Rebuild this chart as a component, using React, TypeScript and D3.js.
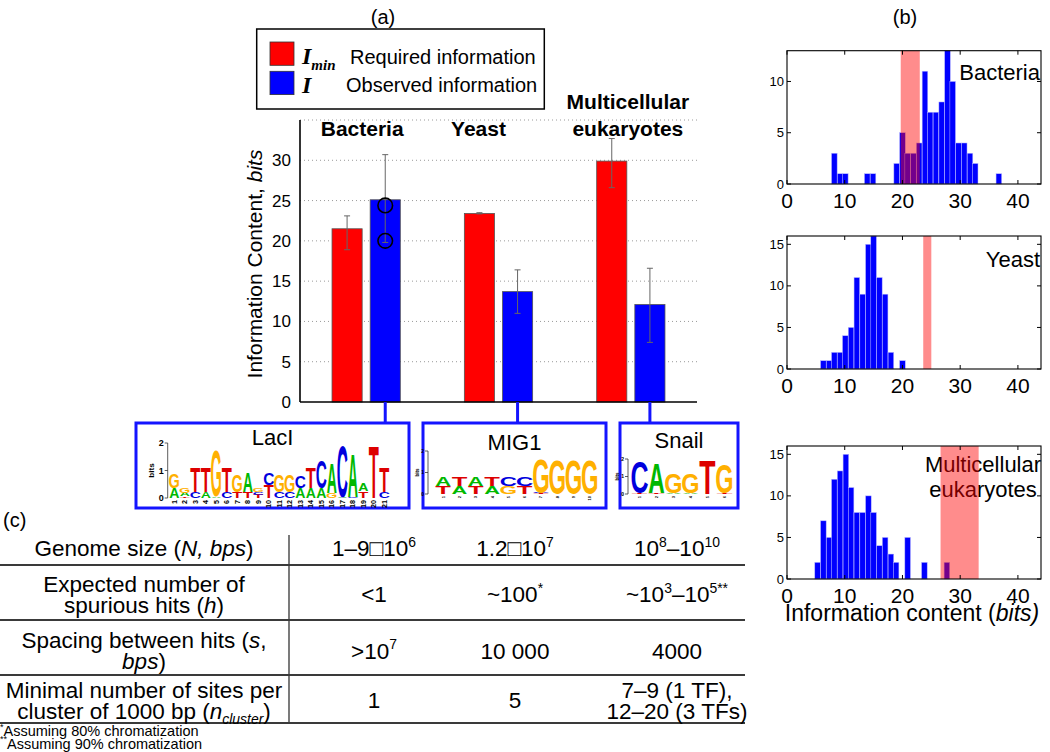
import React from 'react';
import * as d3 from 'd3';

// ---------------- data ----------------
const categories = ['Bacteria', 'Yeast', 'Multicellular eukaryotes'];
const categoryLines = [['Bacteria'], ['Yeast'], ['Multicellular', 'eukaryotes']];
const seriesKeys = ['required', 'observed'];
const requiredInfo = [21.5, 23.4, 29.9];
const requiredLow = [18.9, 23.35, 26.6];
const requiredHigh = [23.1, 23.5, 32.7];
const observedInfo = [25.1, 13.7, 12.1];
const observedLow = [19.8, 11.0, 7.4];
const observedHigh = [30.7, 16.4, 16.6];
const bacteriaMarkers = [24.4, 20.0];
const barTicks = [0, 5, 10, 15, 20, 25, 30];
const gridTicks = [5, 10, 15, 20, 25, 30, 35];
const legendSymbols = ['I', 'I'];
const legendSubs = ['min', ''];
const legendTexts = ['Required information', 'Observed information'];

const bacteriaBins = [8.2, 9.2, 10.1, 13.9, 14.9, 19.0, 20.0, 20.9, 21.9, 22.9, 23.9, 24.8, 25.8, 26.8, 27.8, 28.7, 29.7, 30.7, 31.7, 32.6, 36.7];
const bacteriaCounts = [3, 1, 1, 1, 1, 2, 5, 3, 3, 4, 11, 7, 7, 8, 13, 10, 4, 4, 3, 2, 1];
const yeastBins = [6.3, 7.3, 8.2, 9.2, 10.1, 11.1, 12.1, 13.1, 14.1, 15.0, 16.0, 17.0, 18.0, 20.0];
const yeastCounts = [1, 1, 2, 2, 4, 5, 11, 9, 15, 16, 11, 9, 2, 1];
const multiBins = [5.3, 6.3, 7.3, 8.2, 9.2, 10.2, 11.1, 12.1, 13.1, 14.1, 15.0, 16.0, 17.0, 18.0, 18.9, 20.9, 23.8, 27.7];
const multiCounts = [2, 7, 5, 12, 13, 15, 11, 8, 8, 10, 8, 4, 5, 3, 2, 5, 2, 2];
const bacteriaBand = [19.7, 23.0];
const yeastBand = [23.6, 25.0];
const multiBand = [26.6, 33.2];
const histXTicks = [0, 10, 20, 30, 40];
const bacteriaYTicks = [0, 5, 10];
const yeastYTicks = [0, 5, 10, 15];
const multiYTicks = [0, 5, 10, 15];

const laclTitle = 'LacI';
const laclColumns: [string, number][][] = [
  [['A', 0.37], ['G', 0.51]],
  [['T', 0.06], ['A', 0.13], ['G', 0.2]],
  [['C', 0.23], ['T', 0.9]],
  [['A', 0.23], ['T', 0.9]],
  [['A', 0.06], ['G', 1.68]],
  [['C', 0.23], ['T', 0.9]],
  [['T', 0.23], ['G', 0.64]],
  [['T', 0.23], ['A', 0.7]],
  [['T', 0.12], ['C', 0.1], ['G', 0.14]],
  [['T', 0.47], ['C', 0.42]],
  [['C', 0.23], ['G', 0.64]],
  [['C', 0.23], ['G', 0.64]],
  [['A', 0.37], ['C', 0.44]],
  [['A', 0.37], ['T', 0.75]],
  [['A', 0.37], ['C', 1.03]],
  [['G', 0.2], ['A', 1.1]],
  [['A', 0.03], ['C', 1.88]],
  [['C', 0.05], ['A', 1.6]],
  [['T', 0.25], ['A', 0.3]],
  [['T', 1.95]],
  [['C', 0.23], ['T', 0.9]],
];
const mig1Title = 'MIG1';
const mig1Columns: [string, number][][] = [
  [['T', 0.37], ['A', 0.4]],
  [['A', 0.37], ['T', 0.4]],
  [['T', 0.37], ['A', 0.4]],
  [['A', 0.37], ['T', 0.4]],
  [['G', 0.37], ['C', 0.4]],
  [['T', 0.37], ['C', 0.4]],
  [['T', 0.03], ['C', 0.03], ['G', 1.6]],
  [['G', 1.6]],
  [['G', 1.6]],
  [['G', 1.6]],
];
const snailTitle = 'Snail';
const snailColumns: [string, number][][] = [
  [['T', 0.03], ['C', 1.8]],
  [['T', 0.06], ['A', 1.75]],
  [['A', 0.07], ['G', 1.15]],
  [['A', 0.07], ['G', 1.15]],
  [['T', 1.95]],
  [['T', 0.05], ['G', 1.65]],
];
const logoBitTicks = [0, 1, 2];

// table: '|' toggles italic, '^' superscript, '_' subscript
const tableRowLabels = [
  ['Genome size (|N, bps|)'],
  ['Expected number of', 'spurious hits (|h|)'],
  ['Spacing between hits (|s|,', '|bps|)'],
  ['Minimal number of sites per', 'cluster of 1000 bp (|n_cluster_|)'],
];
const tableBacteria = [['1–9□10^6^'], ['<1'], ['>10^7^'], ['1']];
const tableYeast = [['1.2□10^7^'], ['~100^*^'], ['10 000'], ['5']];
const tableMulti = [['10^8^–10^10^'], ['~10^3^–10^5**^'], ['4000'], ['7–9 (1 TF),', '12–20 (3 TFs)']];
const footnotes = ['^*^Assuming 80% chromatization', '^**^Assuming 90% chromatization'];

// ---------------- helpers ----------------
const SANS = 'Liberation Sans, Arial, Helvetica, sans-serif';
const letterColor: Record<string, string> = { A: '#00b800', C: '#0000dd', G: '#ffb000', T: '#dd0000' };
const letterInk: Record<string, number> = { A: 0.70, C: 0.64, G: 0.68, T: 0.60 };

function rich(str: string, size: number, keyBase: string) {
  const segs: { t: string; it: boolean; sup: boolean; sub: boolean }[] = [];
  let it = false, sup = false, sub = false, buf = '';
  const push = () => { if (buf) { segs.push({ t: buf, it, sup, sub }); buf = ''; } };
  for (const ch of str) {
    if (ch === '|') { push(); it = !it; }
    else if (ch === '^') { push(); sup = !sup; }
    else if (ch === '_') { push(); sub = !sub; }
    else buf += ch;
  }
  push();
  let offset = 0;
  return segs.map((s, i) => {
    const target = s.sup ? -0.42 * size : s.sub ? 0.25 * size : 0;
    const dy = target - offset;
    offset = target;
    const isBox = s.t === '□';
    return (
      <tspan key={keyBase + i} dy={dy} fontStyle={s.it ? 'italic' : 'normal'}
        fontSize={s.sup || s.sub ? size * 0.62 : isBox ? size * 0.8 : size}
        fill={isBox ? '#9a9a9a' : undefined}>{s.t}</tspan>
    );
  });
}

function Logo({ cols, x0, colW, base, pxPerBit, keyBase }: any) {
  const out: any[] = [];
  cols.forEach((col: [string, number][], i: number) => {
    let y = base;
    col.forEach(([l, b], j) => {
      const h = b * pxPerBit;
      const sx = (colW * 0.94) / (letterInk[l] * 100);
      const sy = h / 71.6;
      out.push(
        <text key={`${keyBase}-${i}-${j}`} transform={`translate(${x0 + (i + 0.5) * colW},${y}) scale(${sx},${sy})`}
          fontSize={100} fontWeight="bold" textAnchor="middle" fill={letterColor[l]} fontFamily={SANS}>{l}</text>
      );
      y -= h;
    });
  });
  return <g>{out}</g>;
}

function LogoAxis({ x, base, pxPerBit, x0, colW, n, size, keyBase }: any) {
  return (
    <g>
      <line x1={x} x2={x} y1={base} y2={base - 2 * pxPerBit} stroke="#333" strokeWidth={0.8} />
      {logoBitTicks.map(t => (
        <g key={keyBase + 't' + t}>
          <line x1={x - 3} x2={x} y1={base - t * pxPerBit} y2={base - t * pxPerBit} stroke="#333" strokeWidth={0.8} />
          <text x={x - 4} y={base - t * pxPerBit + size * 0.35} fontSize={size} fontWeight="bold" textAnchor="end" fontFamily={SANS}>{t}</text>
        </g>
      ))}
      <text transform={`translate(${x - 4 - size * 1.1},${base - pxPerBit}) rotate(-90)`} fontSize={size * 0.9} fontWeight="bold" textAnchor="middle" fontFamily={SANS}>bits</text>
      {d3.range(n).map(i => (
        <text key={keyBase + 'n' + i} transform={`translate(${x0 + (i + 0.5) * colW + size * 0.3},${base + 2}) rotate(-90)`}
          fontSize={size * 0.8} fontWeight="bold" textAnchor="end" fontFamily={SANS}>{i + 1}</text>
      ))}
    </g>
  );
}

function Histogram({ top, bottom, bins, counts, band, yMax, yTicks, label }: any) {
  const hx = d3.scaleLinear().domain([0, 44]).range([787, 1041]);
  const hy = d3.scaleLinear().domain([0, yMax]).range([bottom, top]);
  const binW = 0.97;
  return (
    <g>
      {bins.map((c: number, i: number) => (
        <rect key={i} x={hx(c - binW / 2)} width={hx(binW) - hx(0)} y={hy(counts[i])} height={bottom - hy(counts[i])}
          fill="#0000ff" stroke="#b8b8ff" strokeWidth={0.5} />
      ))}
      {label}
      <rect x={hx(band[0])} width={hx(band[1]) - hx(band[0])} y={top} height={bottom - top} fill="#ff0000" fillOpacity={0.45} />
      <rect x={hx(0)} y={top} width={hx(44) - hx(0)} height={bottom - top} fill="none" stroke="#000" strokeWidth={1.1} />
      {histXTicks.map(t => (
        <g key={'x' + t}>
          <line x1={hx(t)} x2={hx(t)} y1={bottom} y2={bottom - 4} stroke="#000" />
          <line x1={hx(t)} x2={hx(t)} y1={top} y2={top + 4} stroke="#000" />
          <text x={hx(t)} y={bottom + 24} fontSize={21} textAnchor="middle" fontFamily={SANS}>{t}</text>
        </g>
      ))}
      {yTicks.map((t: number) => (
        <g key={'y' + t}>
          <line x1={hx(0)} x2={hx(0) + 4} y1={hy(t)} y2={hy(t)} stroke="#000" />
          <line x1={hx(44) - 4} x2={hx(44)} y1={hy(t)} y2={hy(t)} stroke="#000" />
          <text x={hx(0) - 3} y={hy(t) + 4.5} fontSize={13} textAnchor="end" fontFamily={SANS}>{t}</text>
        </g>
      ))}
    </g>
  );
}

export default function App() {
  const AY = 28; // vertical offset of panel (a)
  // ---- panel (a) bar chart ----
  const x0 = d3.scaleBand().domain(categories).range([300, 697]);
  const x1 = d3.scaleBand().domain(seriesKeys).range([x0.bandwidth() * 0.242, x0.bandwidth() * 0.758]).paddingInner(0.21);
  const y = d3.scaleLinear().domain([0, 35]).range([374 + AY, 92 + AY]);
  const labelShift = [-4, -20, -3];
  const seriesVals = [requiredInfo, observedInfo];
  const seriesLow = [requiredLow, observedLow];
  const seriesHigh = [requiredHigh, observedHigh];
  const seriesFill = ['#ff0000', '#0000ff'];

  const obsCenter = (i: number) => (x0(categories[i]) as number) + (x1('observed') as number) + x1.bandwidth() / 2;

  const boxTop = 423, boxBot = 508;
  const logos = [
    { title: laclTitle, cols: laclColumns, box: [136, 409], x0: 169, colW: 10.5, base: 498, ppb: 27.5, axisX: 167.7, size: 9, titleY: 445 },
    { title: mig1Title, cols: mig1Columns, box: [423, 606], x0: 435, colW: 16.3, base: 494, ppb: 21.5, axisX: 428, size: 5, titleY: 450 },
    { title: snailTitle, cols: snailColumns, box: [620, 738], x0: 631, colW: 17, base: 494, ppb: 17.5, axisX: 628, size: 5, titleY: 448 },
  ];

  const rowCenters = [548, 594, 650.5, 700];
  const rowLines = [565, 620, 675, 723];
  const colCenters = [144, 374, 515, 677];
  const lineH = 21;
  const tSize = 22.5;
  const tableCols = [tableRowLabels, tableBacteria, tableYeast, tableMulti];

  return (
    <svg width={1050} height={752} style={{ position: 'absolute', left: 0, top: 0, background: '#fff' }} fontFamily={SANS}>
      <rect width={1050} height={752} fill="#fff" />
      {/* panel labels */}
      <text x={383} y={24} fontSize={20} textAnchor="middle">(a)</text>
      <text x={905} y={24} fontSize={20} textAnchor="middle">(b)</text>
      <text x={3} y={527} fontSize={20}>(c)</text>

      {/* legend */}
      <rect x={256.7} y={1 + AY} width={287.6} height={80} fill="#fff" stroke="#000" strokeWidth={1.5} />
      {legendTexts.map((t, i) => (
        <g key={t}>
          <rect x={270} y={14 + AY + i * 29.3} width={24} height={23.3} fill={seriesFill[i]} stroke="#333" strokeWidth={0.8} />
          <text x={302} y={36 + AY + i * 28.5} fontFamily="Liberation Serif, Times New Roman, serif" fontStyle="italic" fontWeight="bold" fontSize={24}>
            {legendSymbols[i]}
            {legendSubs[i] ? <tspan fontSize={15} dy={5.5}>{legendSubs[i]}</tspan> : null}
          </text>
          <text x={i === 0 ? 350 : 346} y={36 + AY + i * 28} fontSize={20}>{t}</text>
        </g>
      ))}

      {/* grid */}
      {gridTicks.map(t => (
        <line key={'g' + t} x1={300} x2={697} y1={y(t)} y2={y(t)} stroke="#9a9a9a" strokeWidth={1} strokeDasharray="1,3" />
      ))}
      {/* bars */}
      {categories.map((c, i) => (
        <g key={c} transform={`translate(${x0(c)},0)`}>
          {seriesKeys.map((s, k) => {
            const v = seriesVals[k][i];
            const cx = (x1(s) as number) + x1.bandwidth() / 2;
            return (
              <g key={s}>
                <rect x={x1(s)} width={x1.bandwidth()} y={y(v)} height={y(0) - y(v)} fill={seriesFill[k]} stroke="#555" strokeWidth={0.8} />
                <line x1={cx} x2={cx} y1={y(seriesLow[k][i])} y2={y(seriesHigh[k][i])} stroke="#666" strokeWidth={1} />
                <line x1={cx - 3} x2={cx + 3} y1={y(seriesLow[k][i])} y2={y(seriesLow[k][i])} stroke="#666" strokeWidth={1} />
                <line x1={cx - 3} x2={cx + 3} y1={y(seriesHigh[k][i])} y2={y(seriesHigh[k][i])} stroke="#666" strokeWidth={1} />
              </g>
            );
          })}
        </g>
      ))}
      {bacteriaMarkers.map(m => (
        <circle key={'m' + m} cx={obsCenter(0)} cy={y(m)} r={7.3} fill="none" stroke="#000" strokeWidth={1.6} />
      ))}
      {/* axes */}
      <line x1={300} x2={300} y1={y(35)} y2={y(0)} stroke="#000" strokeWidth={1.6} />
      <line x1={300} x2={697} y1={y(0)} y2={y(0)} stroke="#000" strokeWidth={1.6} />
      {barTicks.map(t => (
        <text key={'t' + t} x={291} y={y(t) + 6} fontSize={17} textAnchor="end">{t}</text>
      ))}
      <text transform={`translate(262,${(y(0) + y(35)) / 2 + 3}) rotate(-90)`} fontSize={21} textAnchor="middle">
        Information Content, <tspan fontStyle="italic">bits</tspan>
      </text>
      {categoryLines.map((lines, i) => {
        const cx = (x0(categories[i]) as number) + x0.bandwidth() / 2 + labelShift[i];
        return lines.map((l, j) => (
          <text key={l} x={cx} y={108 + AY - (lines.length - 1 - j) * 27} fontSize={21} fontWeight="bold" textAnchor="middle">{l}</text>
        ));
      })}

      {/* connectors and logos */}
      {logos.map((lg, i) => (
        <g key={lg.title}>
          <line x1={obsCenter(i)} x2={obsCenter(i)} y1={y(0)} y2={boxTop} stroke="#1414ff" strokeWidth={3} />
          <rect x={lg.box[0]} y={boxTop} width={lg.box[1] - lg.box[0]} height={boxBot - boxTop} fill="#fff" stroke="#1414ff" strokeWidth={3} />
          <text x={(lg.box[0] + lg.box[1]) / 2} y={lg.titleY} fontSize={22} textAnchor="middle">{lg.title}</text>
          <LogoAxis x={lg.axisX} base={lg.base} pxPerBit={lg.ppb} x0={lg.x0} colW={lg.colW} n={lg.cols.length} size={lg.size} keyBase={lg.title} />
          <Logo cols={lg.cols} x0={lg.x0} colW={lg.colW} base={lg.base} pxPerBit={lg.ppb} keyBase={lg.title} />
        </g>
      ))}

      {/* panel (b) histograms */}
      <Histogram top={50.7} bottom={184} bins={bacteriaBins} counts={bacteriaCounts} band={bacteriaBand} yMax={13} yTicks={bacteriaYTicks}
        label={<text x={1040} y={80} fontSize={22} textAnchor="end">Bacteria</text>} />
      <Histogram top={236} bottom={369} bins={yeastBins} counts={yeastCounts} band={yeastBand} yMax={16} yTicks={yeastYTicks}
        label={<text x={1040} y={267} fontSize={22} textAnchor="end">Yeast</text>} />
      <Histogram top={446} bottom={579} bins={multiBins} counts={multiCounts} band={multiBand} yMax={16} yTicks={multiYTicks}
        label={<g><text x={983} y={472} fontSize={22} textAnchor="middle">Multicellular</text><text x={983} y={497} fontSize={22} textAnchor="middle">eukaryotes</text></g>} />
      <text x={912} y={621} fontSize={23} textAnchor="middle">Information content (<tspan fontStyle="italic">bits)</tspan></text>

      {/* panel (c) table */}
      <line x1={289} x2={289} y1={535} y2={723} stroke="#222" strokeWidth={1.2} />
      {rowLines.map(l => (
        <line key={'rl' + l} x1={0} x2={745} y1={l} y2={l} stroke="#3a3a3a" strokeWidth={2} />
      ))}
      {tableCols.map((col, ci) =>
        col.map((cell, ri) =>
          cell.map((line, li) => (
            <text key={`c${ci}-${ri}-${li}`} x={colCenters[ci]} y={rowCenters[ri] + (li - (cell.length - 1) / 2) * lineH + 8}
              fontSize={tSize} textAnchor="middle">{rich(line, tSize, `k${ci}${ri}${li}`)}</text>
          ))
        )
      )}
      {footnotes.map((f, i) => (
        <text key={'f' + i} x={0} y={736 + i * 12.5} fontSize={14.5}>{rich(f, 14.5, 'f' + i)}</text>
      ))}
    </svg>
  );
}
